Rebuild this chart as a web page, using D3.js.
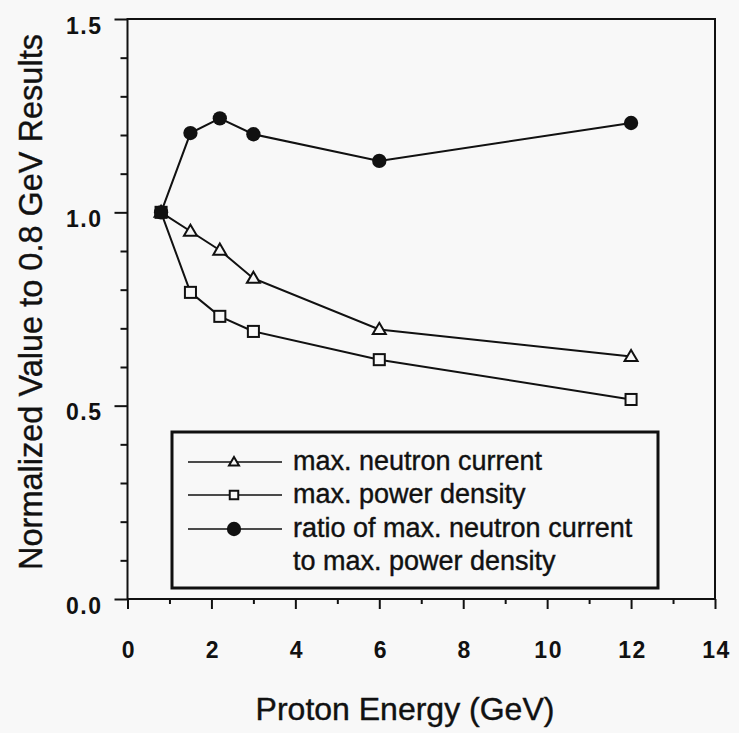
<!DOCTYPE html>
<html>
<head>
<meta charset="utf-8">
<script src="https://cdn.jsdelivr.net/npm/d3@7"></script>
<style>
  html, body { margin: 0; padding: 0; background: #f8f8f8; }
  svg { display: block; }
</style>
</head>
<body>
<svg id="chart" width="739" height="733"></svg>
<script>
// ---- data ----
const energies = [0.8, 1.5, 2.2, 3.0, 6.0, 12.0];
const neutronCurrent = [1.0, 0.951, 0.902, 0.829, 0.697, 0.627];
const powerDensity = [1.0, 0.793, 0.731, 0.692, 0.619, 0.516];
const ratio = [1.0, 1.205, 1.243, 1.202, 1.133, 1.231];
const xMajorTicks = [0, 2, 4, 6, 8, 10, 12, 14];
const xMinorTicks = [1, 3, 5, 7, 9, 11, 13];
const yMajorTicks = [0, 0.5, 1.0, 1.5];
const yMinorTicks = [0.1, 0.2, 0.3, 0.4, 0.6, 0.7, 0.8, 0.9, 1.1, 1.2, 1.3, 1.4];
const legendLabels = [
  ["max. neutron current"],
  ["max. power density"],
  ["ratio of max. neutron current", "to max. power density"]
];
const xTitle = "Proton Energy (GeV)";
const yTitle = "Normalized Value to 0.8 GeV Results";

// ---- layout ----
const svg = d3.select("#chart");
const x = d3.scaleLinear().domain([0, 14]).range([127.5, 715]);
const y = d3.scaleLinear().domain([0, 1.5]).range([599, 19]);
const font = "'Liberation Sans', Arial, Helvetica, sans-serif";
const ink = "#111";

// frame
svg.append("rect")
  .attr("x", x(0)).attr("y", y(1.5))
  .attr("width", x(14) - x(0)).attr("height", y(0) - y(1.5))
  .attr("fill", "none").attr("stroke", ink).attr("stroke-width", 2);

// x axis
const gx = svg.append("g").attr("transform", `translate(0,${y(0)})`);
gx.call(d3.axisBottom(x).tickValues(xMajorTicks).tickSize(10).tickFormat(d3.format("d")));
const gxm = svg.append("g").attr("transform", `translate(0,${y(0)})`);
gxm.call(d3.axisBottom(x).tickValues(xMinorTicks).tickSize(5).tickFormat(""));

// y axis
const gy = svg.append("g").attr("transform", `translate(${x(0)},0)`);
gy.call(d3.axisLeft(y).tickValues(yMajorTicks).tickSize(13).tickFormat(d3.format(".1f")));
const gym = svg.append("g").attr("transform", `translate(${x(0)},0)`);
gym.call(d3.axisLeft(y).tickValues(yMinorTicks).tickSize(7).tickFormat(""));

[gx, gxm, gy, gym].forEach(g => {
  g.select(".domain").remove();
  g.selectAll(".tick line").attr("stroke", ink).attr("stroke-width", 2);
});
gx.selectAll(".tick text")
  .attr("y", 0).attr("dy", 0)
  .attr("transform", "translate(1,59)")
  .attr("fill", ink)
  .style("font-family", font).style("font-size", "23px").style("font-weight", "bold")
  .style("letter-spacing", "1.5px");
gy.selectAll(".tick text")
  .attr("x", -25).attr("dy", 0).attr("y", 14)
  .attr("fill", ink)
  .style("font-family", font).style("font-size", "23px").style("font-weight", "bold")
  .style("letter-spacing", "1.5px");

// titles
svg.append("text")
  .attr("x", 405).attr("y", 720)
  .attr("text-anchor", "middle")
  .attr("fill", ink).attr("stroke", ink).attr("stroke-width", 0.4)
  .style("font-family", font).style("font-size", "32px")
  .text(xTitle);
svg.append("text")
  .attr("transform", "translate(42,302) rotate(-90)")
  .attr("text-anchor", "middle")
  .attr("fill", ink).attr("stroke", ink).attr("stroke-width", 0.4)
  .style("font-family", font).style("font-size", "32.5px")
  .text(yTitle);

// ---- series ----
const series = [
  { values: neutronCurrent, marker: "triangle" },
  { values: powerDensity, marker: "square" },
  { values: ratio, marker: "circle" }
];
const line = d3.line().x(d => x(d[0])).y(d => y(d[1]));

function drawMarker(g, type, cx, cy, size) {
  if (type === "circle") {
    g.append("circle").attr("cx", cx).attr("cy", cy).attr("r", size * 0.55)
      .attr("fill", ink).attr("stroke", "none");
  } else if (type === "square") {
    const s = size * 0.85;
    g.append("rect").attr("x", cx - s / 2).attr("y", cy - s / 2)
      .attr("width", s).attr("height", s)
      .attr("fill", "#f8f8f8").attr("stroke", ink).attr("stroke-width", 2);
  } else {
    const h = size * 0.85, w = size;
    g.append("path")
      .attr("d", `M${cx},${cy - h * 0.6}L${cx + w / 2},${cy + h * 0.4}L${cx - w / 2},${cy + h * 0.4}Z`)
      .attr("fill", "#f8f8f8").attr("stroke", ink).attr("stroke-width", 2);
  }
}

series.forEach(s => {
  const pts = energies.map((e, i) => [e, s.values[i]]);
  svg.append("path").datum(pts)
    .attr("d", line).attr("fill", "none").attr("stroke", ink).attr("stroke-width", 2);
});
series.forEach(s => {
  const g = svg.append("g");
  energies.forEach((e, i) => drawMarker(g, s.marker, x(e), y(s.values[i]), 13));
});

// ---- legend ----
const legend = svg.append("g");
legend.append("rect")
  .attr("x", 172).attr("y", 432).attr("width", 486).attr("height", 156)
  .attr("fill", "#f8f8f8").attr("stroke", ink).attr("stroke-width", 3);
const rowY = [462, 495, 529];
legendLabels.forEach((lines, i) => {
  const ly = rowY[i];
  legend.append("line").attr("x1", 188).attr("x2", 282).attr("y1", ly).attr("y2", ly)
    .attr("stroke", ink).attr("stroke-width", 1.5);
  drawMarker(legend, series[i].marker, 234, ly, series[i].marker === "circle" ? 13 : 10);
  lines.forEach((t, j) => {
    legend.append("text")
      .attr("x", 293).attr("y", ly + 8 + j * 33)
      .attr("fill", ink).attr("stroke", ink).attr("stroke-width", 0.4)
      .style("font-family", font).style("font-size", "27px")
      .text(t);
  });
});
</script>
</body>
</html>
